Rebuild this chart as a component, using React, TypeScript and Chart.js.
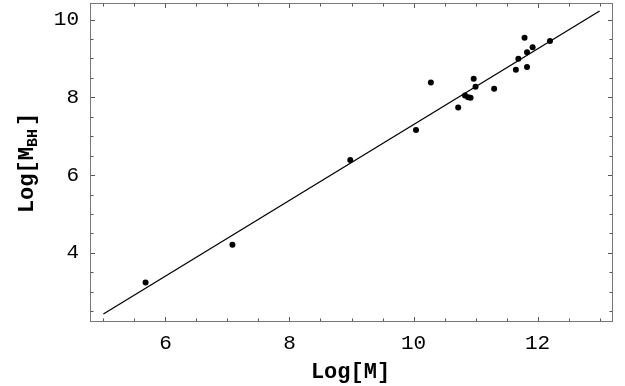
import React, { useEffect, useRef } from "react";
import { Chart, registerables } from "chart.js";

Chart.register(...registerables);

// Data
const logMass = [5.68, 7.08, 8.98, 10.04, 10.28, 10.72, 10.83, 10.88, 10.92, 10.97, 11.0, 11.3, 11.65, 11.69, 11.79, 11.83, 11.83, 11.92, 12.2];
const logMbh = [3.24, 4.21, 6.39, 7.16, 8.38, 7.74, 8.05, 8.0, 7.99, 8.48, 8.27, 8.22, 8.71, 8.99, 9.53, 9.16, 8.78, 9.29, 9.45];
const fitX = [5, 13];
const fitY = [2.43, 10.22];
const xTickValues = [6, 8, 10, 12];
const yTickValues = [4, 6, 8, 10];
const xRange = [4.8, 13.2];
const yRange = [2.25, 10.4];
const xTitle = "Log[M]";
const yTitleMain = "Log[M";
const yTitleSub = "BH";
const yTitleEnd = "]";

const FONT = "'Liberation Mono', 'Courier New', monospace";

const framePlugin = {
  id: "frameTicks",
  afterDraw(chart: any) {
    const { ctx, chartArea, scales } = chart;
    const { left, right, top, bottom } = chartArea;
    const xs = scales.x;
    const ys = scales.y;
    ctx.save();
    ctx.strokeStyle = "#777";
    ctx.lineWidth = 1;
    ctx.strokeRect(left - 0.5, top - 0.5, right - left + 1, bottom - top + 1);
    ctx.strokeStyle = "#555";
    ctx.beginPath();
    const step = 0.5;
    for (let v = Math.ceil(xs.min / step) * step; v <= xs.max + 1e-9; v += step) {
      const px = Math.round(xs.getPixelForValue(v)) + 0.5;
      const len = Math.abs(v % 2) < 1e-9 ? 4 : 2.5;
      ctx.moveTo(px, bottom);
      ctx.lineTo(px, bottom - len);
      ctx.moveTo(px, top);
      ctx.lineTo(px, top + len);
    }
    for (let v = Math.ceil(ys.min / step) * step; v <= ys.max + 1e-9; v += step) {
      const py = Math.round(ys.getPixelForValue(v)) + 0.5;
      const len = Math.abs(v % 2) < 1e-9 ? 4 : 2.5;
      ctx.moveTo(left, py);
      ctx.lineTo(left + len, py);
      ctx.moveTo(right, py);
      ctx.lineTo(right - len, py);
    }
    ctx.stroke();

    // Axis titles
    ctx.fillStyle = "#000";
    ctx.textBaseline = "alphabetic";
    ctx.font = `bold 22px ${FONT}`;
    ctx.textAlign = "center";
    ctx.fillText(xTitle, (left + right) / 2 - 1, 378);

    // Y title with subscript
    const big = `bold 22px ${FONT}`;
    const small = `bold 15px ${FONT}`;
    ctx.font = big;
    const w1 = ctx.measureText(yTitleMain).width;
    const w3 = ctx.measureText(yTitleEnd).width;
    ctx.font = small;
    const w2 = ctx.measureText(yTitleSub).width;
    const gap = 3;
    const total = w1 + w2 + gap + w3;
    ctx.translate(33, 163);
    ctx.rotate(-Math.PI / 2);
    ctx.textAlign = "left";
    let x0 = -total / 2;
    ctx.font = big;
    ctx.fillText(yTitleMain, x0, 0);
    x0 += w1;
    ctx.font = small;
    ctx.fillText(yTitleSub, x0, 4);
    x0 += w2 + gap;
    ctx.font = big;
    ctx.fillText(yTitleEnd, x0, 0);
    ctx.restore();
  },
};

export default function App() {
  const canvasRef = useRef<HTMLCanvasElement | null>(null);

  useEffect(() => {
    const canvas = canvasRef.current;
    if (!canvas) return;
    const chart = new Chart(canvas, {
      type: "scatter",
      data: {
        datasets: [
          {
            label: "fit",
            data: fitX.map((x, i) => ({ x, y: fitY[i] })),
            showLine: true,
            borderColor: "#000",
            borderWidth: 1.3,
            pointRadius: 0,
            fill: false,
          },
          {
            label: "galaxies",
            data: logMass.map((x, i) => ({ x, y: logMbh[i] })),
            backgroundColor: "#000",
            borderColor: "#000",
            pointRadius: 3,
            borderWidth: 0,
          },
        ],
      },
      options: {
        responsive: false,
        animation: false,
        devicePixelRatio: 1,
        layout: { padding: { top: 1, right: 13, left: 0, bottom: 0 } },
        plugins: {
          legend: { display: false },
          tooltip: { enabled: false },
          title: { display: false },
        },
        scales: {
          x: {
            type: "linear",
            min: xRange[0],
            max: xRange[1],
            grid: { display: false, drawTicks: false },
            border: { display: false },
            ticks: {
              color: "#000",
              font: { family: FONT, size: 21 },
              padding: 10,
              maxRotation: 0,
            },
            afterBuildTicks: (scale: any) => {
              scale.ticks = xTickValues.map((v) => ({ value: v }));
            },
            afterFit: (scale: any) => {
              scale.height = 65;
              scale.paddingLeft = 0;
              scale.paddingRight = 0;
            },
          },
          y: {
            type: "linear",
            min: yRange[0],
            max: yRange[1],
            grid: { display: false, drawTicks: false },
            border: { display: false },
            ticks: {
              color: "#000",
              font: { family: FONT, size: 21 },
              padding: 12,
            },
            afterBuildTicks: (scale: any) => {
              scale.ticks = yTickValues.map((v) => ({ value: v }));
            },
            afterFit: (scale: any) => {
              scale.width = 91;
              scale.paddingTop = 0;
              scale.paddingBottom = 0;
            },
          },
        },
      },
      plugins: [framePlugin],
    });
    return () => chart.destroy();
  }, []);

  return (
    <div style={{ position: "fixed", left: 0, top: 0, width: 625, height: 386, background: "#fff" }}>
      <canvas ref={canvasRef} width={625} height={386} style={{ display: "block" }} />
    </div>
  );
}
